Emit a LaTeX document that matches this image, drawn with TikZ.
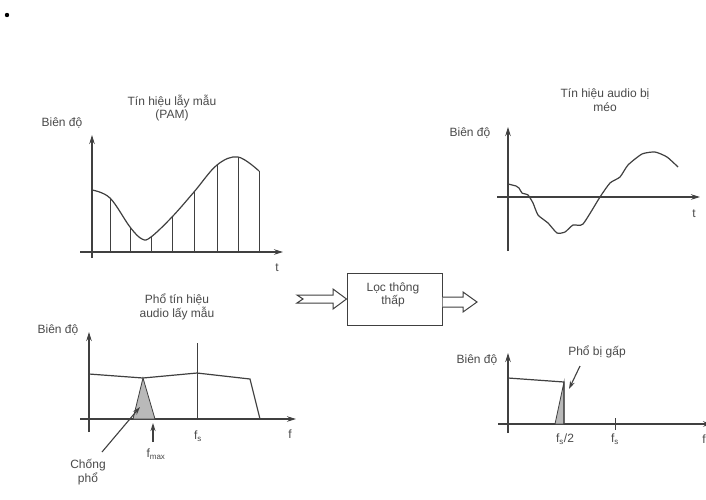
\documentclass[tikz,border=0pt]{standalone}
\usepackage{fontspec}
\setmainfont{Liberation Sans}
\usetikzlibrary{arrows.meta}
\definecolor{ink}{HTML}{404040}
\definecolor{txt}{HTML}{4A4A4A}
\tikzset{
  lbl/.style={text=txt, inner sep=0pt, font=\fontsize{12}{13.5}\selectfont, align=center},
  axis/.style={draw=ink, line width=1.1pt, -{Stealth[length=9pt,width=5.5pt]}},
  curve/.style={draw=ink, line width=1.2pt},
  thin/.style={draw=ink, line width=0.8pt},
  shade/.style={draw=ink, line width=0.8pt, fill=gray!55},
  ptr/.style={draw=ink, line width=1.1pt, -{Stealth[length=8pt,width=5pt]}},
  hollow/.style={draw=ink, line width=1pt, fill=white, line join=miter},
  boxstyle/.style={draw=ink, line width=1pt, minimum width=95pt, minimum height=52pt, inner sep=0pt}
}
\begin{document}
\begin{tikzpicture}[x=1pt,y=-1pt]
\useasboundingbox[fill=white] (0,0) rectangle (706,499);
\fill[black] (7,15) circle (2.2);

% ---------- top-left: PAM signal ----------
\node[lbl] (t1) at (172,108) {Tín hiệu lẫy mẫu\\(PAM)};
\node[lbl] (b1) at (62,123) {Biên độ};
\coordinate (y1a) at (92,258); \coordinate (y1b) at (92,135);
\coordinate (x1a) at (80,252); \coordinate (x1b) at (283,252);
\draw[axis] (y1a) -- (y1b);
\draw[axis] (x1a) -- (x1b);
\node[lbl] (tt1) at (277,268) {t};
\draw[curve] plot[smooth, tension=0.6] coordinates {(92,190) (110,198) (130,227) (142,239) (151,237) (172,217) (194,192) (217,165) (238,157) (259,171)};
\foreach \x/\y in {110/198,130/227,151/237,172/217,194/192,217/165,238/157,259/171}
  \draw[thin] (\x,\y) -- (\x,252);

% ---------- bottom-left: sampled spectrum ----------
\node[lbl] (t2) at (177,307) {Phổ tín hiệu\\audio lấy mẫu};
\node[lbl] (b2) at (58,330) {Biên độ};
\coordinate (y2a) at (89,432); \coordinate (y2b) at (89,332);
\coordinate (x2a) at (80,419); \coordinate (x2b) at (296,419);
\draw[axis] (y2a) -- (y2b);
\draw[axis] (x2a) -- (x2b);
\node[lbl] (f2) at (290,434) {f};
\draw[shade] (133,419) -- (143,378) -- (155,419) -- cycle;
\draw[curve] (89,374) -- (143,378) -- (197,373) -- (250,379) -- (260,419);
\draw[thin] (197,343) -- (197,419);
\node[lbl] (fs2) at (198,436) {f\textsubscript{s}};
\coordinate (fm0) at (153,442); \coordinate (fm1) at (153,423);
\draw[ptr] (fm0) -- (fm1);
\node[lbl] (fm) at (156,454) {f\textsubscript{max}};
\node[lbl] (ch) at (88,472) {Chống\\phổ};
\coordinate (ch0) at (102,452); \coordinate (ch1) at (140,407);
\draw[ptr] (ch0) -- (ch1);

% ---------- middle: low pass filter ----------
\node[boxstyle] (lpf) at (394.5,299) {};
\node[lbl] (lpft) at (393,295) {Lọc thông\\thấp};
\draw[hollow] (297,295) -- (333,295) -- (333,289) -- (lpf.west |- 0,299) -- (333,309) -- (333,303) -- (297,303) -- (303,299) -- cycle;
\draw[hollow] (lpf.east |- 0,297) -- (463,297) -- (463,292) -- (477,302) -- (463,312) -- (463,307) -- (lpf.east |- 0,307);

% ---------- top-right: distorted audio ----------
\node[lbl] (t3) at (605,100) {Tín hiệu audio bị\\méo};
\node[lbl] (b3) at (470,133) {Biên độ};
\coordinate (y3a) at (508,251); \coordinate (y3b) at (508,127);
\coordinate (x3a) at (497,197); \coordinate (x3b) at (700,197);
\draw[axis] (y3a) -- (y3b);
\draw[axis] (x3a) -- (x3b);
\node[lbl] (tt3) at (694,214) {t};
\draw[curve] plot[smooth, tension=0.35] coordinates {(508,184) (516,186) (519,188) (522,193) (528,195) (533,203) (538,215) (548,223) (557,233) (565,232) (573,225) (583,224) (600,197) (610,183) (620,177) (628,165) (642,154) (655,152) (667,157) (678,167)};

% ---------- bottom-right: folded spectrum ----------
\node[lbl] (b4) at (477,360) {Biên độ};
\node[lbl] (t4) at (597,352) {Phổ bị gấp};
\coordinate (y4a) at (508,433); \coordinate (y4b) at (508,353);
\coordinate (x4a) at (498,424); \coordinate (x4b) at (712,424);
\draw[axis] (y4a) -- (y4b);
\draw[axis] (x4a) -- (x4b);
\draw[shade] (555,424) -- (564,382) -- (564,424) -- cycle;
\draw[curve] (508,378) -- (564,382) -- (564,424);
\draw[thin] (615,418) -- (615,430);
\node[lbl] (fh) at (565,439) {f\textsubscript{s}/2};
\node[lbl] (fs4) at (615,439) {f\textsubscript{s}};
\node[lbl] (f4) at (704,439) {f};
\coordinate (pg0) at (580,366); \coordinate (pg1) at (569,389);
\draw[ptr] (pg0) -- (pg1);
\end{tikzpicture}
\end{document}
